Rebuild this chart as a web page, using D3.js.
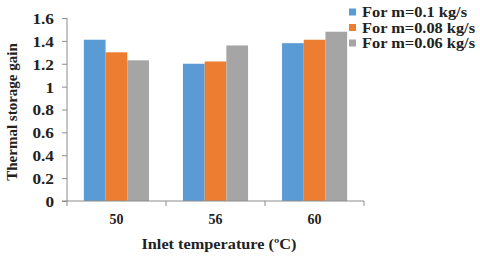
<!DOCTYPE html>
<html>
<head>
<meta charset="utf-8">
<script src="https://cdn.jsdelivr.net/npm/d3@7"></script>
<style>
  body { margin: 0; background: #fff; }
  svg { display: block; }
  text { font-family: "Liberation Serif", "Times New Roman", serif; font-weight: bold; fill: #222; }
</style>
</head>
<body>
<div id="chart"></div>
<script>
// data
var categories = ["50", "56", "60"];
var seriesNames = ["For m=0.1 kg/s", "For m=0.08 kg/s", "For m=0.06 kg/s"];
var seriesColors = ["#5B9BD5", "#ED7D31", "#A5A5A5"];
var flow01 = [1.41, 1.20, 1.38];
var flow008 = [1.30, 1.22, 1.41];
var flow006 = [1.23, 1.36, 1.48];
var yTicks = [0, 0.2, 0.4, 0.6, 0.8, 1, 1.2, 1.4, 1.6];

var seriesValues = [flow01, flow008, flow006];

var width = 480, height = 259;
var margin = { top: 18, right: 116, bottom: 58, left: 67 };
var innerW = width - margin.left - margin.right,
  innerH = height - margin.top - margin.bottom;

var svg = d3.select("#chart").append("svg")
  .attr("width", width)
  .attr("height", height);

var g = svg.append("g")
  .attr("transform", "translate(" + margin.left + "," + margin.top + ")");

var x0 = d3.scaleBand().domain(categories).range([0, innerW])
  .paddingInner(0.343).paddingOuter(0.17);
var x1 = d3.scaleBand().domain(d3.range(seriesNames.length)).range([0, x0.bandwidth()]);
var y = d3.scaleLinear().domain([0, 1.6]).range([innerH, 0]);

// bars
categories.forEach(function(cat, ci) {
  var grp = g.append("g").attr("transform", "translate(" + x0(cat) + ",0)");
  seriesValues.forEach(function(vals, si) {
    grp.append("rect")
      .attr("x", x1(si))
      .attr("y", y(vals[ci]))
      .attr("width", x1.bandwidth())
      .attr("height", innerH - y(vals[ci]))
      .attr("fill", seriesColors[si]);
  });
});

// y axis
var yAxis = d3.axisLeft(y).tickValues(yTicks).tickSize(5).tickPadding(8)
  .tickFormat(function(d) { return d3.format("")(d); });
var yG = g.append("g").call(yAxis);
yG.selectAll("line").attr("stroke", "#8c8c8c");
yG.select(".domain").attr("stroke", "#8c8c8c").attr("d", "M0," + innerH + "V0");
yG.selectAll("text")
  .style("font-size", "15px")
  .style("font-family", "Liberation Serif, serif")
  .style("font-weight", "bold")
  .attr("fill", "#222")
  .attr("dy", "0.36em")
  .each(function() {
    // the source picture is a bit stretched sideways
    var el = d3.select(this), w = this.getComputedTextLength();
    el.attr("textLength", w * 1.15).attr("lengthAdjust", "spacingAndGlyphs");
  });

// x axis: ticks on category boundaries
var boundaries = d3.range(categories.length + 1).map(function(i) { return i * innerW / categories.length; });
var xG = g.append("g").attr("transform", "translate(0," + innerH + ")");
xG.append("line").attr("x1", -5).attr("x2", innerW).attr("y1", 0).attr("y2", 0).attr("stroke", "#8c8c8c");
xG.selectAll("line.tk").data(boundaries).enter().append("line").attr("class", "tk")
  .attr("x1", function(d) { return d; }).attr("x2", function(d) { return d; })
  .attr("y1", 0).attr("y2", 5).attr("stroke", "#8c8c8c");
xG.selectAll("text.lbl").data(categories).enter().append("text").attr("class", "lbl")
  .attr("x", function(d) { return x0(d) + x0.bandwidth() / 2; })
  .attr("y", 23)
  .attr("text-anchor", "middle")
  .style("font-size", "14px")
  .text(function(d) { return d; });

// axis titles
svg.append("text")
  .attr("x", 219)
  .attr("y", 249)
  .attr("text-anchor", "middle")
  .attr("textLength", 155)
  .attr("lengthAdjust", "spacingAndGlyphs")
  .style("font-size", "15px")
  .text("Inlet temperature (\u00BAC)");

svg.append("text")
  .attr("transform", "translate(17,112) rotate(-90)")
  .attr("text-anchor", "middle")
  .style("font-size", "15px")
  .text("Thermal storage gain");

// legend
var legend = svg.append("g").attr("transform", "translate(349,6)");
var legendW = [105, 113, 113];
seriesNames.forEach(function(name, i) {
  var row = legend.append("g").attr("transform", "translate(0," + i * 15.5 + ")");
  row.append("rect").attr("x", 0).attr("y", 2.5).attr("width", 7).attr("height", 7).attr("fill", seriesColors[i]);
  row.append("text").attr("x", 13).attr("y", 11)
    .attr("textLength", legendW[i])
    .attr("lengthAdjust", "spacingAndGlyphs")
    .style("font-size", "14.5px")
    .text(name);
});
</script>
</body>
</html>
